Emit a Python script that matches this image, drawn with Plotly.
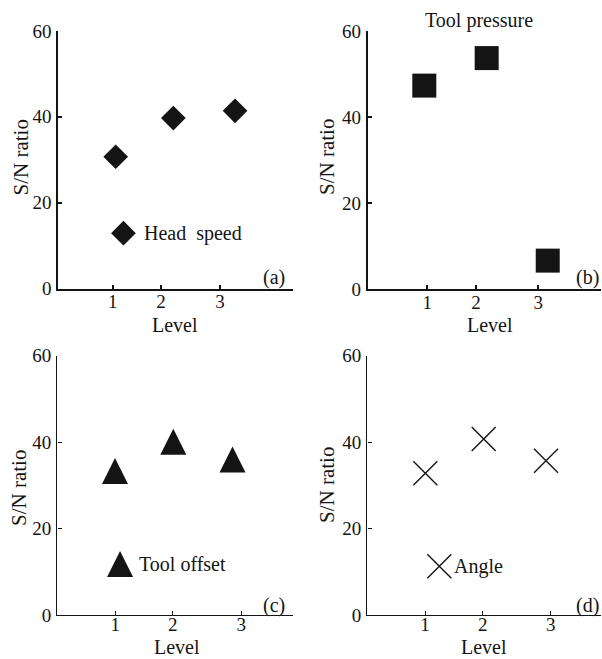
import plotly.graph_objects as go

W, H = 602, 659
FONT = "Liberation Serif"
INK = "#141414"

# ---------------- data ----------------
level_labels = ["1", "2", "3"]
y_ticks = [0, 20, 40, 60]

# (a) Head speed
head_speed_x = [1.056, 2.13, 3.28]
head_speed_sn = [30.7, 39.7, 41.4]
# (b) Tool pressure
tool_pressure_x = [0.946, 2.07, 3.17]
tool_pressure_sn = [47.3, 53.7, 6.6]
# (c) Tool offset
tool_offset_x = [0.995, 1.92, 2.86]
tool_offset_sn = [33.3, 40.1, 36.0]
# (d) Angle
angle_x = [1.005, 1.934, 2.925]
angle_sn = [32.8, 40.7, 35.7]

# legend glyph positions (data units of each panel)
legend_names = ["Head\u00a0 speed", "Tool pressure", "Tool offset", "Angle"]
legend_marker_x = [1.20, 0.598, 1.075, 1.228]
legend_marker_y = [12.9, 62.4, 11.8, 11.3]
legend_text_x = [1.54, 0.917, 1.34, 1.425]

panel_labels = ["(a)", "(b)", "(c)", "(d)"]

# ---------------- layout of panels (pixels) ----------------
panels = [
    dict(xpx=(58.3, 293), ypx=(31, 288.5), xr=(-0.014, 4.36), tickpos=[1, 1.90, 3], lw=1.8,
         x=head_speed_x, y=head_speed_sn, xstand=-5,
         marker=dict(symbol="diamond", size=19, color=INK),
         ytitle=(20, 157.5), xtitle=(175, 325), plabel=(287, 277.5)),
    dict(xpx=(367.7, 601), ypx=(31, 289), xr=(-0.074, 4.13), tickpos=[1, 1.877, 3], lw=1.8,
         x=tool_pressure_x, y=tool_pressure_sn, xstand=-5,
         marker=dict(symbol="square", size=24, color=INK),
         ytitle=(327, 157), xtitle=(490, 325), plabel=(601, 277)),
    dict(xpx=(57.3, 293), ypx=(355.7, 615), xr=(0.079, 3.82), tickpos=[1, 1.91, 3], lw=1.4,
         x=tool_offset_x, y=tool_offset_sn, xstand=-8,
         marker=dict(symbol="arrow-down", size=26, color=INK, angle=180, standoff=13),
         ytitle=(19, 488), xtitle=(177, 647), plabel=(287, 605)),
    dict(xpx=(367.3, 601), ypx=(355.7, 615), xr=(0.082, 3.80), tickpos=[1, 1.918, 3], lw=1.4,
         x=angle_x, y=angle_sn, xstand=-8,
         marker=dict(symbol="x-thin-open", size=24, color=INK, line=dict(width=1.4, color=INK)),
         ytitle=(327, 485), xtitle=(484, 647), plabel=(601, 605)),
]

fig = go.Figure()
annotations = []
for i, p in enumerate(panels):
    n = "" if i == 0 else str(i + 1)
    xa, ya = "x" + n, "y" + n
    xdom = [p["xpx"][0] / W, p["xpx"][1] / W]
    ydom = [1 - p["ypx"][1] / H, 1 - p["ypx"][0] / H]

    fig.add_trace(go.Scatter(x=p["x"], y=p["y"], mode="markers", marker=p["marker"],
                             xaxis=xa, yaxis=ya, cliponaxis=False, showlegend=False,
                             hoverinfo="x+y"))
    fig.add_trace(go.Scatter(x=[legend_marker_x[i]], y=[legend_marker_y[i]], mode="markers",
                             marker=p["marker"], xaxis=xa, yaxis=ya, cliponaxis=False,
                             showlegend=False, hoverinfo="skip"))

    axis_common = dict(showline=True, linecolor=INK, linewidth=p["lw"], mirror=False,
                       ticks="inside", ticklen=4, tickwidth=p["lw"], tickcolor=INK,
                       showgrid=False, zeroline=False, fixedrange=True, automargin=False,
                       tickfont=dict(family=FONT, size=19, color=INK))
    fig.update_layout(**{
        ("xaxis" + n): dict(domain=xdom, range=list(p["xr"]), anchor=ya,
                            tickvals=p["tickpos"], ticktext=level_labels,
                            ticklabelstandoff=p["xstand"], **axis_common),
        ("yaxis" + n): dict(domain=ydom, range=[0, 60], anchor=xa,
                            tickvals=y_ticks, ticklabelstandoff=1, **axis_common),
    })

    # legend text (paper y from data value)
    ly = ydom[0] + legend_marker_y[i] / 60 * (ydom[1] - ydom[0])
    annotations.append(dict(text=legend_names[i], x=legend_text_x[i], xref=xa,
                            y=ly, yref="paper", xanchor="left", yanchor="middle",
                            showarrow=False, font=dict(family=FONT, size=20, color=INK)))
    # axis titles
    annotations.append(dict(text="S/N ratio", x=p["ytitle"][0] / W, y=1 - p["ytitle"][1] / H,
                            xref="paper", yref="paper", textangle=-90,
                            xanchor="center", yanchor="middle", showarrow=False,
                            font=dict(family=FONT, size=21, color=INK)))
    annotations.append(dict(text="Level", x=p["xtitle"][0] / W, y=1 - p["xtitle"][1] / H,
                            xref="paper", yref="paper", xanchor="center", yanchor="middle",
                            showarrow=False, font=dict(family=FONT, size=20, color=INK)))
    annotations.append(dict(text=panel_labels[i], x=p["plabel"][0] / W, y=1 - p["plabel"][1] / H,
                            xref="paper", yref="paper", xanchor="right", yanchor="middle",
                            showarrow=False, font=dict(family=FONT, size=20, color=INK)))

fig.update_layout(width=W, height=H, margin=dict(l=0, r=0, t=0, b=0, pad=0, autoexpand=False),
                  paper_bgcolor="white", plot_bgcolor="white",
                  annotations=annotations, showlegend=False)

fig.write_html("out.html", config={"displayModeBar": False},
               post_script="document.body.style.margin='0';document.body.style.overflow='hidden';")
